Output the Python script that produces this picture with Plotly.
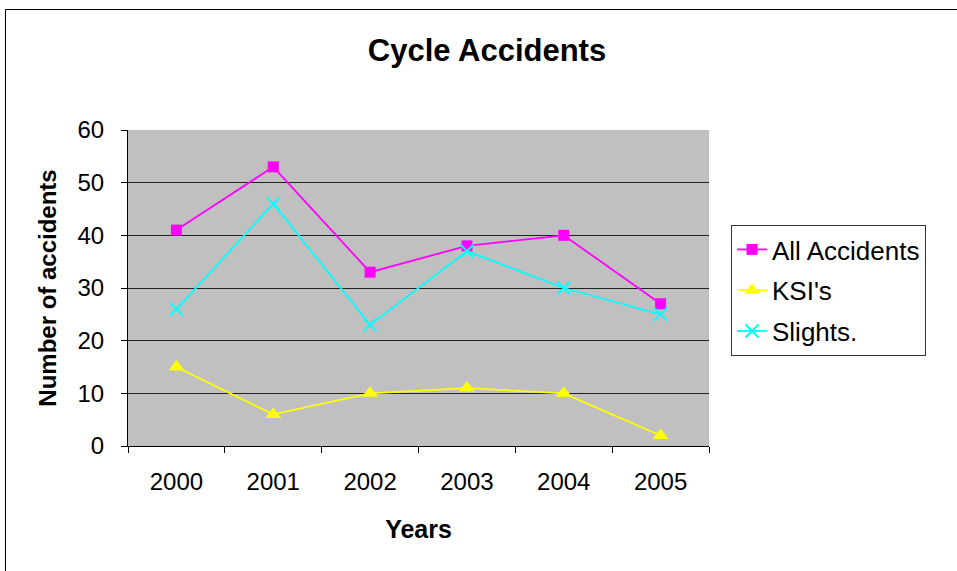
import plotly.graph_objects as go

years = ["2000", "2001", "2002", "2003", "2004", "2005"]
all_accidents = [41, 53, 33, 38, 40, 27]
ksis = [15, 6, 10, 11, 10, 2]
slights = [26, 46, 23, 37, 30, 25]

FONT = "Liberation Sans, Arial, sans-serif"

fig = go.Figure()
fig.add_trace(go.Scatter(x=years, y=all_accidents, name="All Accidents", mode="lines+markers",
                         legendgroup="a",
                         line=dict(color="#ff00ff", width=1.8),
                         marker=dict(symbol="square", size=11, color="#ff00ff")))
fig.add_trace(go.Scatter(x=years, y=ksis, name="KSI's", mode="lines+markers",
                         legendgroup="b",
                         line=dict(color="#ffff00", width=1.8),
                         marker=dict(symbol="triangle-up", size=14, color="#ffff00")))
fig.add_trace(go.Scatter(x=years, y=slights, name="Slights.", mode="lines+markers",
                         legendgroup="c",
                         line=dict(color="#00ffff", width=1.8),
                         marker=dict(symbol="x-thin", size=13, color="#00ffff",
                                     line=dict(color="#00ffff", width=2))))

L, R, T, B = 128, 709, 130, 446
W, H = 957, 571
pw, ph = R - L, B - T

fig.update_layout(
    width=W, height=H,
    margin=dict(l=L, r=W - R, t=T, b=H - B, autoexpand=False),
    paper_bgcolor="white", plot_bgcolor="#c0c0c0",
    font=dict(family=FONT, size=24, color="black"),
    title=dict(text="<b>Cycle Accidents</b>", x=487 / W, xref="container", xanchor="center",
               y=1 - 50 / H, yref="container", yanchor="middle",
               font=dict(size=31, family=FONT)),
    showlegend=True,
    legend=dict(x=(731 - L) / pw, xanchor="left", y=(B - 225) / ph, yanchor="top",
                bordercolor="#333333", borderwidth=1, bgcolor="white",
                font=dict(size=26, family=FONT), tracegroupgap=4),
    xaxis=dict(type="category", range=[-0.5, 5.5], showgrid=False, tickson="boundaries",
               ticks="outside", ticklen=6, tickcolor="black", showline=True,
               linecolor="black", linewidth=1, mirror=False, ticklabelstandoff=14,
               title=dict(text="<b>Years</b>", font=dict(size=25, family=FONT), standoff=26),
               tickfont=dict(size=24)),
    yaxis=dict(range=[0, 60], dtick=10, showgrid=True, gridcolor="#222222", gridwidth=1,
               ticks="outside", ticklen=6, tickcolor="black", showline=True,
               linecolor="black", linewidth=1, zeroline=False, ticklabelstandoff=12,
               title=dict(text="<b>Number of accidents</b>", font=dict(size=24, family=FONT), standoff=14),
               tickfont=dict(size=24)),
)

# outer chart frame (extends past the right and bottom edges as in the reference)
fig.add_shape(type="rect", xref="paper", yref="paper",
              x0=(5.5 - L) / pw, x1=(W + 20 - L) / pw,
              y0=(B - (H + 20)) / ph, y1=(B - 9.5) / ph,
              line=dict(color="black", width=1), fillcolor="rgba(0,0,0,0)", layer="below")

fig.write_html("out.html", config={"displayModeBar": False},
               post_script="document.body.style.margin='0';")
